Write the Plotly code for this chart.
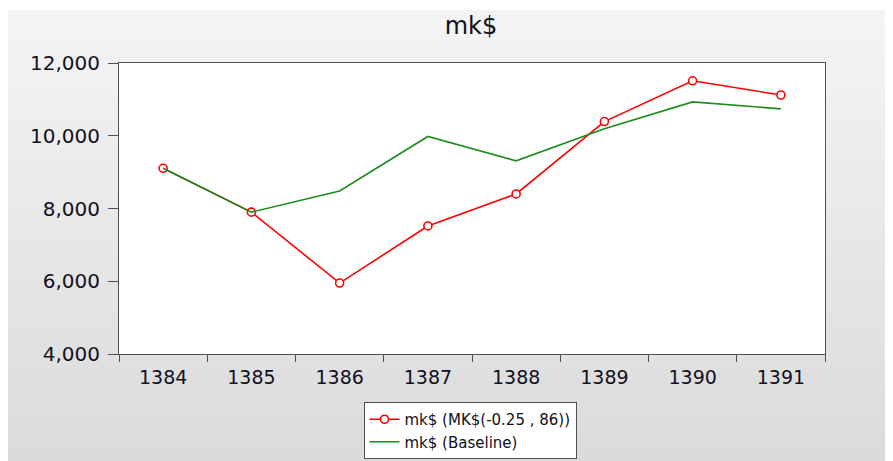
import plotly.graph_objects as go

# data
years = ["1384", "1385", "1386", "1387", "1388", "1389", "1390", "1391"]
mk_scenario = [9105, 7900, 5950, 7520, 8400, 10390, 11510, 11120]
mk_baseline = [9105, 7900, 8480, 9980, 9310, 10190, 10930, 10740]
y_ticks = [4000, 6000, 8000, 10000, 12000]

# the page puts the figure 8px in from the top-left corner;
# figure runs a little past the bottom of the window so the legend has room
W, H = 885, 480
L, R, T, B = 111, 68, 55, 134
pw, ph = W - L - R, H - T - B

def px_x(x):
    return (x - L) / pw

def px_y(y):
    return (H - B - y) / ph

font = "DejaVu Sans, Liberation Sans, Arial"
txt = "#111122"
axcol = "#505050"

fig = go.Figure()
fig.add_trace(go.Scatter(
    x=years, y=mk_scenario, mode="lines+markers",
    name="mk$ (MK$(-0.25 , 86))",
    line=dict(color="#ff0000", width=1.6),
    marker=dict(symbol="circle", size=8, color="white",
                line=dict(color="#ff0000", width=1.6)),
))
fig.add_trace(go.Scatter(
    x=years, y=mk_baseline, mode="lines",
    name="mk$ (Baseline)",
    line=dict(color="#1e8c1e", width=1.6),
))

# grey gradient panel behind everything, then white plot area
shapes = []
top, bot = 2, 455
n = 30
for i in range(n):
    y0 = top + (bot - top) * i / n
    y1 = top + (bot - top) * (i + 1) / n
    if i == n - 1:
        y1 = H + 2
    g = int(round(0xf4 - (0xf4 - 0xdb) * i / (n - 1)))
    c = "rgb(%d,%d,%d)" % (g, g, g)
    shapes.append(dict(type="rect", xref="paper", yref="paper",
                       x0=px_x(-2), x1=px_x(W + 2), y0=px_y(y1 + 0.5), y1=px_y(y0),
                       fillcolor=c, line=dict(width=0), layer="below"))
shapes.append(dict(type="rect", xref="paper", yref="paper", x0=0, x1=1, y0=0, y1=1,
                   fillcolor="white", line=dict(width=0), layer="below"))

fig.update_layout(
    width=W, height=H,
    margin=dict(l=L, r=R, t=T, b=B),
    paper_bgcolor="white",
    plot_bgcolor="white",
    shapes=shapes,
    font=dict(family=font, color=txt, size=15),
    title=dict(text="mk$", xref="container", x=463 / W, xanchor="center",
               yref="container", y=1 - 18 / H, yanchor="middle",
               font=dict(size=24, family=font, color=txt)),
    showlegend=True,
    legend=dict(
        x=px_x(462), xanchor="center", y=px_y(394), yanchor="top",
        bgcolor="white", bordercolor=axcol, borderwidth=1,
        font=dict(size=15, family=font, color=txt),
        tracegroupgap=0,
    ),
    xaxis=dict(
        type="category", range=[-0.5, 7.5],
        showline=True, linecolor=axcol, linewidth=1, mirror=True,
        ticks="outside", tickson="boundaries", ticklen=7, tickcolor=axcol,
        ticklabelstandoff=6, showgrid=False, zeroline=False,
        tickfont=dict(size=19, family=font, color=txt),
    ),
    yaxis=dict(
        range=[4000, 12000], tickvals=y_ticks, tickformat=",d",
        showline=True, linecolor=axcol, linewidth=1, mirror=True,
        ticks="outside", ticklen=10, tickcolor=axcol,
        ticklabelstandoff=4, showgrid=False, zeroline=False,
        tickfont=dict(size=20, family=font, color=txt),
    ),
)

fig.write_html("out.html")
